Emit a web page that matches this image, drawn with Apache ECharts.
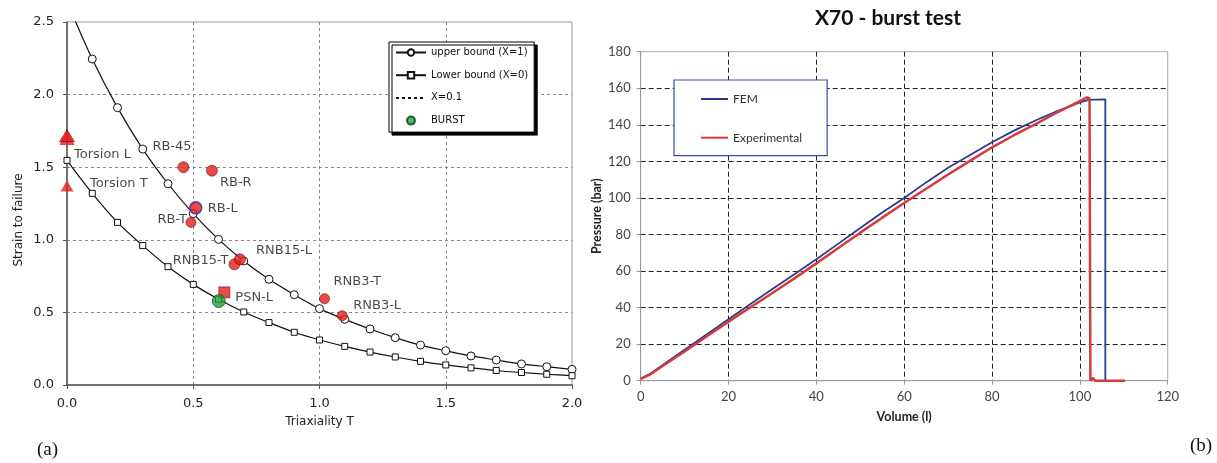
<!DOCTYPE html>
<html><head><meta charset="utf-8">
<script src="https://cdn.jsdelivr.net/npm/echarts@6/dist/echarts.min.js"></script>
<style>html,body{margin:0;padding:0;background:#fff;} #c{width:1217px;height:463px;}</style>
</head><body><div id="c"></div>
<script>
// ---------- (a) strain to failure vs triaxiality ----------
const triax = [0,0.1,0.2,0.3,0.4,0.5,0.6,0.7,0.8,0.9,1.0,1.1,1.2,1.3,1.4,1.5,1.6,1.7,1.8,1.9,2.0];
const upperBound = [2.64,2.245,1.91,1.625,1.386,1.18,1.003,0.854,0.728,0.622,0.526,0.452,0.386,0.326,0.275,0.236,0.2,0.172,0.145,0.126,0.108];
const lowerBound = [1.547,1.32,1.12,0.96,0.815,0.693,0.59,0.503,0.43,0.363,0.31,0.266,0.227,0.193,0.163,0.138,0.118,0.1,0.086,0.074,0.064];
const burstT = [0.601];
const burstStrain = [0.578];
const testNames = ['Torsion L','Torsion L','Torsion T','RB-45','RB-R','RB-L','RB-T','RNB15-T','RNB15-L','PSN-L','RNB3-T','RNB3-L'];
const testT = [0,0,0,0.461,0.574,0.51,0.491,0.663,0.685,0.623,1.02,1.09];
const testStrain = [1.708,1.717,1.37,1.50,1.476,1.22,1.12,0.831,0.866,0.638,0.594,0.477];
const axisTicksA = {xMin:0,xMax:2,xStep:0.5,yMin:0,yMax:2.5,yStep:0.5};

// ---------- (b) X70 burst test ----------
const volFEM  = [0,2,5,10,15,20,25,30,35,40,45,50,55,60,65,70,75,80,85,90,95,100,102,105.8,105.8];
const presFEM = [1,3.6,8.6,17,25.3,33.6,42,50.2,58.3,66.4,75,83.5,92,100,108.5,116.5,123.5,130.5,136.8,142.5,147.6,152.3,153.6,153.9,0];
const volExp  = [0,2,5,10,15,20,25,30,35,40,45,50,55,60,65,70,75,80,85,90,95,100,101.6,102.2,102.4,103,103.4,110.3];
const presExp = [1,3.2,8,16,24.2,32.3,40.2,48,56,64.2,72.6,81,89.2,97.2,105,112.8,120.3,127.7,134.3,140.5,147,153,155,154.5,0,1.5,0,0];
const axisTicksB = {xMin:0,xMax:120,xStep:20,yMin:0,yMax:180,yStep:20};

// ---------- styles (kept apart from data) ----------
const RED = '#e31e1c';
const markStyles = [
  {symbol:'triangle', size:[15,16], border:RED, bw:0, show:true, align:'left', offset:[7,18]},
  {symbol:'triangle', size:[15,12], border:'#5a0000', bw:0.7, show:false},
  {symbol:'triangle', size:[13,11], border:RED, bw:0, show:true, align:'left', offset:[23,-2]},
  {symbol:'circle', size:11, border:'#600', bw:0.7, show:true, align:'left', offset:[-31,-20.5]},
  {symbol:'circle', size:11, border:'#600', bw:0.7, show:true, align:'left', offset:[8,12]},
  {symbol:'circle', size:12, border:'#2b2b9a', bw:1.5, show:true, align:'left', offset:[12,1]},
  {symbol:'circle', size:10, border:'#600', bw:0.7, show:true, align:'right', offset:[-4,-3]},
  {symbol:'circle', size:11, border:'#600', bw:0.7, show:true, align:'right', offset:[-6,-4]},
  {symbol:'circle', size:11, border:'#600', bw:0.7, show:true, align:'left', offset:[16,-8.6]},
  {symbol:'rect', size:11, border:'#600', bw:0.7, show:true, align:'left', offset:[11,5]},
  {symbol:'circle', size:10, border:'#600', bw:0.7, show:true, align:'left', offset:[9,-17]},
  {symbol:'circle', size:10, border:'#600', bw:0.7, show:true, align:'left', offset:[11,-10]}
];

const FA = 'DejaVu Sans';
const FB = 'Lato';

const testData = testNames.map((n,i)=>{
  const s = markStyles[i];
  return {
    name:n, value:[testT[i], testStrain[i]],
    symbol:s.symbol, symbolSize:s.size,
    itemStyle:{color:RED, borderColor:s.border, borderWidth:s.bw},
    label:{show:s.show, position:'inside', align:s.align||'left', verticalAlign:'middle',
           offset:s.offset||[0,0], formatter:n, fontFamily:FA, fontSize:13, color:'#1a1a1a'}
  };
});

const chart = echarts.init(document.getElementById('c'), null, {renderer:'canvas'});
chart.setOption({
  animation:false,
  backgroundColor:'#fff',
  title:{text:'X70 - burst test', left:888, top:8, textAlign:'center', padding:0,
    textStyle:{fontFamily:FB, fontWeight:'bold', fontSize:21, color:'#111'}},
  grid:[
    {left:67, top:22, width:505, height:363, show:true, borderColor:'#999', borderWidth:1},
    {left:640.7, top:51.7, width:527, height:329, show:true, borderColor:'#aaa', borderWidth:1}
  ],
  legend:[
    {orient:'vertical', left:389, top:42, itemWidth:30, itemHeight:8, itemGap:12.7,
     padding:[5.5,6,6.5,6], backgroundColor:'#fff', borderColor:'#000', borderWidth:1,
     shadowColor:'#000', shadowBlur:0, shadowOffsetX:3, shadowOffsetY:3,
     textStyle:{fontFamily:FA, fontSize:10, color:'#111'},
     data:['upper bound (X=1)','Lower bound (X=0)',{name:'X=0.1', itemStyle:{opacity:0}},'BURST']},
    {orient:'vertical', left:674, top:80, itemWidth:27, itemHeight:14, itemGap:26.7,
     padding:[13,25,12,26], backgroundColor:'#fff', borderColor:'#3c4ba0', borderWidth:1.2,
     textStyle:{fontFamily:FB, fontSize:12, color:'#333'},
     data:[{name:'FEM', itemStyle:{opacity:0}},{name:'Experimental', itemStyle:{opacity:0}}]}
  ],
  xAxis:[
    {gridIndex:0, type:'value', min:axisTicksA.xMin, max:axisTicksA.xMax, interval:axisTicksA.xStep,
     name:'Triaxiality T', nameLocation:'middle', nameGap:31,
     nameTextStyle:{fontFamily:FA, fontSize:12, color:'#222'},
     axisLine:{lineStyle:{color:'#555', width:1.5}},
     axisTick:{show:true, length:4, lineStyle:{color:'#555'}},
     axisLabel:{fontFamily:FA, fontSize:13, color:'#222', margin:12, formatter:v=>v.toFixed(1)},
     splitLine:{show:true, showMinLine:false, showMaxLine:false, lineStyle:{color:'#888', type:[3,3], width:1}}},
    {gridIndex:1, type:'value', min:axisTicksB.xMin, max:axisTicksB.xMax, interval:axisTicksB.xStep,
     name:'Volume (l)', nameLocation:'middle', nameGap:30,
     nameTextStyle:{fontFamily:FB, fontSize:12.5, fontWeight:'bold', color:'#222'},
     axisLine:{lineStyle:{color:'#999', width:1}},
     axisTick:{show:true, length:4, lineStyle:{color:'#999'}},
     axisLabel:{fontFamily:FB, fontSize:13, color:'#444', margin:10},
     splitLine:{show:true, showMinLine:false, showMaxLine:false, lineStyle:{color:'#222', type:[5,3], width:1}}}
  ],
  yAxis:[
    {gridIndex:0, type:'value', min:axisTicksA.yMin, max:axisTicksA.yMax, interval:axisTicksA.yStep,
     name:'Strain to failure', nameLocation:'middle', nameGap:42,
     nameTextStyle:{fontFamily:FA, fontSize:12, color:'#222', padding:[0,33,0,0]},
     axisLine:{show:true, lineStyle:{color:'#555', width:1.5}},
     axisTick:{show:true, length:4, lineStyle:{color:'#555'}},
     axisLabel:{fontFamily:FA, fontSize:13, color:'#222', margin:13, formatter:v=>v.toFixed(1)},
     splitLine:{show:true, showMinLine:false, showMaxLine:false, lineStyle:{color:'#888', type:[3,3], width:1}}},
    {gridIndex:1, type:'value', min:axisTicksB.yMin, max:axisTicksB.yMax, interval:axisTicksB.yStep,
     name:'Pressure (bar)', nameLocation:'middle', nameGap:37,
     nameTextStyle:{fontFamily:FB, fontSize:12.5, fontWeight:'bold', color:'#222'},
     axisLine:{show:true, lineStyle:{color:'#999', width:1}},
     axisTick:{show:true, length:4, lineStyle:{color:'#999'}},
     axisLabel:{fontFamily:FB, fontSize:13, color:'#444', margin:10},
     splitLine:{show:true, showMinLine:false, showMaxLine:false, lineStyle:{color:'#222', type:[5,3], width:1}}}
  ],
  series:[
    {name:'upper bound (X=1)', type:'line', xAxisIndex:0, yAxisIndex:0, smooth:0.3,
     data:triax.map((t,i)=>[t,upperBound[i]]), symbol:'circle', symbolSize:8,
     itemStyle:{color:'#fff', borderColor:'#111', borderWidth:1},
     lineStyle:{color:'#111', width:1.2}, z:2},
    {name:'Lower bound (X=0)', type:'line', xAxisIndex:0, yAxisIndex:0, smooth:0.3,
     data:triax.map((t,i)=>[t,lowerBound[i]]), symbol:'rect', symbolSize:6,
     itemStyle:{color:'#fff', borderColor:'#111', borderWidth:1},
     lineStyle:{color:'#111', width:1.2}, z:2},
    {name:'X=0.1', type:'line', xAxisIndex:0, yAxisIndex:0, data:[], symbol:'none',
     itemStyle:{color:'#111'}, lineStyle:{color:'#111', width:1, type:[3,3]}},
    {name:'BURST', type:'scatter', xAxisIndex:0, yAxisIndex:0,
     data:burstT.map((t,i)=>[t,burstStrain[i]]), symbol:'circle', symbolSize:13,
     itemStyle:{color:'#22a03c', borderColor:'#0c3d18', borderWidth:0.8}, z:4},
    {name:'tests', type:'scatter', xAxisIndex:0, yAxisIndex:0, data:testData, z:3},
    {name:'FEM', type:'line', xAxisIndex:1, yAxisIndex:1, data:volFEM.map((v,i)=>[v,presFEM[i]]),
     symbol:'none', itemStyle:{color:'#2c3b8a'}, lineStyle:{color:'#2c3b8a', width:1.8}},
    {name:'Experimental', type:'line', xAxisIndex:1, yAxisIndex:1, data:volExp.map((v,i)=>[v,presExp[i]]),
     symbol:'none', itemStyle:{color:'#d63b3b'}, lineStyle:{color:'#d63b3b', width:2.5}}
  ],
  graphic:[
    {type:'text', left:37, top:441, style:{text:'(a)', font:'19px "Liberation Serif"', fill:'#111'}},
    {type:'text', left:1190, top:437, style:{text:'(b)', font:'19px "Liberation Serif"', fill:'#111'}}
  ]
});
</script></body></html>
